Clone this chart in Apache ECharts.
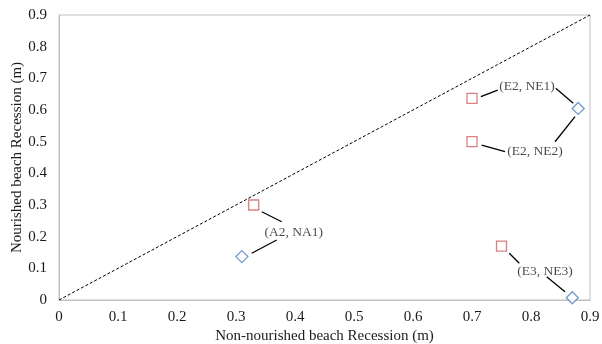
<!DOCTYPE html>
<html>
<head>
<meta charset="utf-8">
<script src="https://cdn.jsdelivr.net/npm/echarts@6/dist/echarts.min.js"></script>
<style>
  html, body { margin: 0; padding: 0; background: #fff; }
  #chart { width: 602px; height: 344px; }
</style>
</head>
<body>
<div id="chart"></div>
<script>
// nourished beach points (red squares): [non-nourished, nourished]
var nourished = [[0.33, 0.30], [0.70, 0.637], [0.70, 0.50], [0.75, 0.17]]
// non-nourished beach points (blue diamonds)
var nonNourished = [[0.31, 0.137], [0.88, 0.605], [0.87, 0.007]]
// 1:1 reference line
var equalLine = [[0, 0], [0.9, 0.9]]
// annotation labels and their positions (data units)
var labelNames = ['(A2, NA1)', '(E2, NE1)', '(E2, NE2)', '(E3, NE3)']
var labelPos = [[0.398, 0.2125], [0.7932, 0.6735], [0.8068, 0.4683], [0.8237, 0.0894]]
// leader line segments (data units)
var leaders = [
  [[0.3436, 0.2788], [0.3775, 0.2472]],
  [[0.369, 0.1895], [0.3266, 0.1475]],
  [[0.715, 0.642], [0.7436, 0.663]],
  [[0.8419, 0.6685], [0.8717, 0.6211]],
  [[0.8746, 0.5788], [0.8407, 0.4998]],
  [[0.7164, 0.4894], [0.7559, 0.4683]],
  [[0.7632, 0.1475], [0.7802, 0.1159]],
  [[0.8266, 0.0736], [0.8576, 0.0262]]
]
var ticks = [0, 0.1, 0.2, 0.3, 0.4, 0.5, 0.6, 0.7, 0.8, 0.9]

var font = 'Liberation Serif'
var textColor = '#1a1a1a'
var axisColor = '#BFBFBF'

function axis(name, isY) {
  return {
    type: 'value',
    min: 0,
    max: 0.9,
    interval: 0.1,
    name: name,
    nameLocation: 'middle',
    nameGap: isY ? 34 : 29,
    nameMoveOverlap: false,
    nameTextStyle: { fontFamily: font, fontSize: 15, color: textColor },
    axisLine: { show: true, lineStyle: { color: axisColor, width: 1 } },
    axisTick: { show: false },
    splitLine: { show: false },
    axisLabel: {
      fontFamily: font,
      fontSize: 15,
      color: textColor,
      margin: isY ? 12 : 10,
      formatter: function (v) {
        return ticks.indexOf(Math.round(v * 10) / 10) >= 0 ? String(Math.round(v * 10) / 10) : ''
      }
    }
  }
}

var series = [{
  type: 'line',
  data: equalLine,
  symbol: 'none',
  silent: true,
  lineStyle: { color: '#000', width: 1, type: [3, 2] }
}, {
  type: 'scatter',
  data: nourished,
  symbol: 'rect',
  symbolSize: 10,
  itemStyle: { color: '#fff', borderColor: '#D06060', borderWidth: 1.3 }
}, {
  type: 'scatter',
  data: nonNourished,
  symbol: 'diamond',
  symbolSize: 12,
  itemStyle: { color: '#fff', borderColor: '#4F81BD', borderWidth: 1.3 }
}, {
  type: 'scatter',
  symbolSize: 0,
  data: labelPos.map(function (p, i) { return { value: p, name: labelNames[i] } }),
  label: {
    show: true,
    position: 'inside',
    formatter: '{b}',
    fontFamily: font,
    fontSize: 13.5,
    color: textColor
  }
}]

leaders.forEach(function (seg) {
  series.push({
    type: 'line',
    data: seg,
    symbol: 'none',
    silent: true,
    lineStyle: { color: '#000', width: 1.3 }
  })
})

var chart = echarts.init(document.getElementById('chart'))
chart.setOption({
  animation: false,
  backgroundColor: '#fff',
  grid: {
    left: 59,
    right: 12,
    top: 15,
    bottom: 44,
    outerBoundsMode: 'none',
    show: true,
    borderColor: axisColor,
    borderWidth: 1
  },
  xAxis: axis('Non-nourished beach Recession (m)', false),
  yAxis: axis('Nourished beach Recession (m)', true),
  series: series
})
</script>
</body>
</html>
